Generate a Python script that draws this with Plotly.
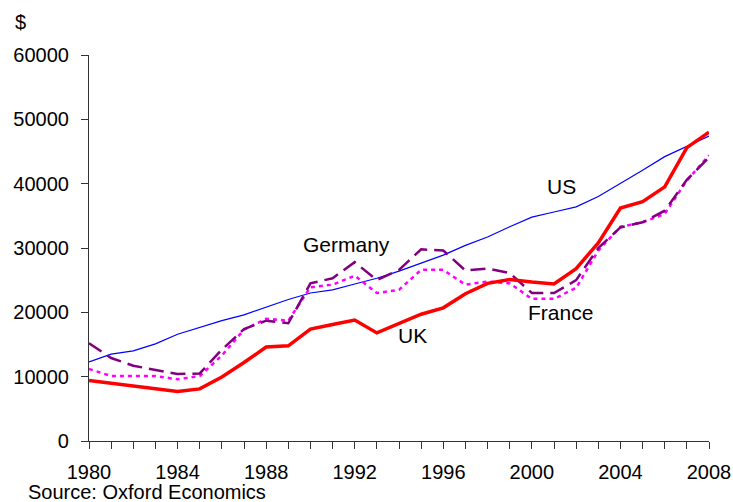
import plotly.graph_objects as go

years = list(range(1980, 2009))
us = [12300, 13500, 14000, 15100, 16600, 17700, 18700, 19600, 20800, 22000,
      23000, 23500, 24400, 25300, 26400, 27600, 28900, 30400, 31700, 33300,
      34800, 35600, 36400, 38000, 40000, 42100, 44200, 45800, 47400]
uk = [9400, 9000, 8600, 8200, 7700, 8100, 9950, 12200, 14600, 14800,
      17400, 18100, 18800, 16800, 18200, 19700, 20700, 22900, 24500, 25100,
      24700, 24400, 26800, 30800, 36200, 37200, 39500, 45600, 48000]
germany = [15200, 12900, 11700, 11000, 10400, 10500, 14200, 17400, 18700, 18300,
           24500, 25300, 27800, 25000, 26600, 29800, 29600, 26500, 26800, 26100,
           23000, 23000, 25000, 30000, 33200, 34000, 35800, 40600, 44100]
france = [11200, 10100, 10100, 10100, 9600, 10100, 13300, 17300, 19000, 18700,
          23900, 24300, 25700, 23000, 23500, 26600, 26600, 24300, 24800, 24500,
          22100, 22100, 23800, 29600, 33300, 34000, 35300, 40500, 44400]

x_tick_labels = [str(y) if (y - 1980) % 4 == 0 else "" for y in years]
y_ticks = [0, 10000, 20000, 30000, 40000, 50000, 60000]

series_labels = ["Germany", "US", "France", "UK"]
label_x = [1991.65, 2001.35, 2001.3, 1994.6]
label_y = [30500, 39600, 19900, 16450]

FONT = "Liberation Sans, Arial, sans-serif"

fig = go.Figure()
fig.add_trace(go.Scatter(x=years, y=us, mode="lines", name="US",
                         line=dict(color="#0000FF", width=1.2)))
fig.add_trace(go.Scatter(x=years, y=france, mode="lines", name="France",
                         line=dict(color="#FF00FF", width=2.5, dash="4px,4px")))
fig.add_trace(go.Scatter(x=years, y=germany, mode="lines", name="Germany",
                         line=dict(color="#800080", width=2.5, dash="15px,7px")))
fig.add_trace(go.Scatter(x=years, y=uk, mode="lines", name="UK",
                         line=dict(color="#FF0000", width=3.5)))

for t, xv, yv in zip(series_labels, label_x, label_y):
    fig.add_annotation(x=xv, y=yv, text=t, showarrow=False, xref="x", yref="y",
                       xanchor="center", yanchor="middle",
                       font=dict(size=21, color="black", family=FONT))

fig.add_annotation(x=-0.122, y=1.085, xref="paper", yref="paper", text="$",
                   showarrow=False, xanchor="left", yanchor="middle",
                   font=dict(size=20, color="black", family=FONT))
fig.add_annotation(x=-0.1016, y=-0.131, xref="paper", yref="paper",
                   text="Source: Oxford Economics", showarrow=False,
                   xanchor="left", yanchor="middle",
                   font=dict(size=20, color="black", family=FONT))

fig.update_layout(
    width=733, height=502,
    margin=dict(l=89, r=24, t=55, b=61, autoexpand=False),
    paper_bgcolor="white", plot_bgcolor="white",
    showlegend=False,
    font=dict(family=FONT, size=20, color="black"),
    xaxis=dict(range=[1980, 2008], tickmode="array", tickvals=years, ticktext=x_tick_labels,
               ticks="outside", ticklen=7, tickcolor="#333", tickwidth=1,
               showline=True, linecolor="#333", linewidth=1.2, showgrid=False,
               zeroline=False, ticklabelstandoff=6, tickangle=0, automargin=False,
               tickfont=dict(size=20, family=FONT)),
    yaxis=dict(range=[0, 60000], tickmode="array", tickvals=y_ticks,
               ticktext=[str(v) for v in y_ticks],
               ticks="outside", ticklen=7, tickcolor="#333", tickwidth=1,
               showline=True, linecolor="#333", linewidth=1.2, showgrid=False,
               zeroline=False, ticklabelstandoff=8, automargin=False,
               tickfont=dict(size=20, family=FONT)),
)

fig.write_html("out.html", config={"displayModeBar": False},
               post_script="document.body.style.margin='0px';document.body.style.overflow='hidden';")
